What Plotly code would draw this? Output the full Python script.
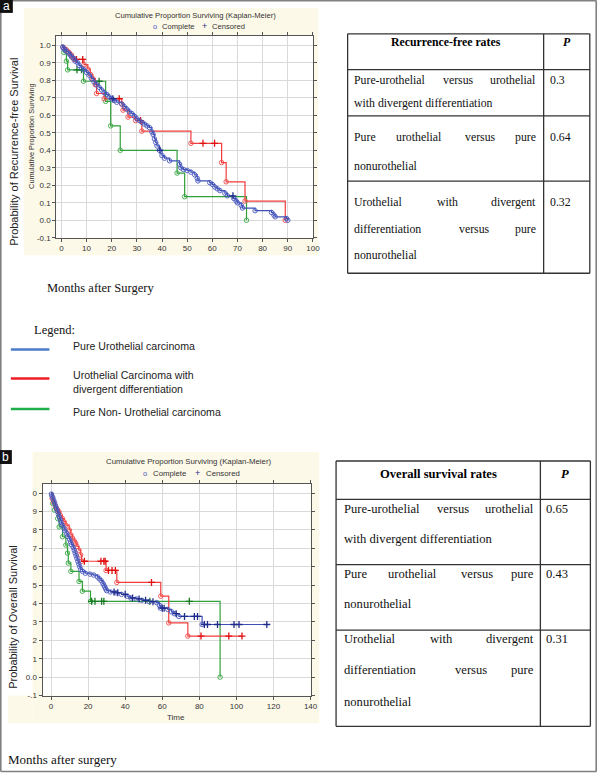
import plotly.graph_objects as go

W, H = 605, 778

# ---------------- DATA ----------------
# Panel a: recurrence-free survival (months, cumulative proportion surviving)
rfs_blue_t = [0.5, 1, 1.5, 2, 3, 3.5, 4, 5, 5.5, 6.5, 7, 8, 9, 10, 11, 12, 13, 14, 15, 16,
              17, 18, 19, 20, 21, 22, 24, 25, 26, 27, 28, 29, 30, 31, 32, 33, 34, 35, 36, 36.5,
              37, 37.5, 38, 39, 40, 41, 43, 47, 47.5, 48.5, 50, 51.5, 53, 54, 54.3, 59, 60, 61, 62, 63,
              65, 66, 68.5, 69.5, 70, 71.5, 72, 77, 83.5, 84.5, 85, 89.5, 90]
rfs_blue_s = [0.99, 0.98, 0.975, 0.965, 0.955, 0.945, 0.935, 0.925, 0.91, 0.9, 0.885, 0.87, 0.86, 0.845, 0.83, 0.81, 0.79, 0.775, 0.76, 0.745,
              0.73, 0.72, 0.705, 0.695, 0.685, 0.675, 0.665, 0.65, 0.635, 0.62, 0.61, 0.595, 0.58, 0.57, 0.56, 0.55, 0.54, 0.53, 0.505, 0.49,
              0.465, 0.445, 0.425, 0.40, 0.37, 0.355, 0.34, 0.32, 0.30, 0.29, 0.285, 0.275, 0.26, 0.24, 0.225, 0.215, 0.205, 0.19, 0.18, 0.17,
              0.155, 0.14, 0.125, 0.11, 0.10, 0.085, 0.07, 0.055, 0.045, 0.03, 0.02, 0.01, 0.0]
rfs_blue_cens = [20.5, 39.2, 68.2]

rfs_red_t = [1, 2, 3, 4, 4.5, 5, 9, 10.5, 11.5, 12.5, 13.5, 14, 17, 24, 24.5, 26.5, 29.5, 32, 51.5, 63.7, 65.5, 73, 89]
rfs_red_s = [0.985, 0.975, 0.96, 0.945, 0.93, 0.92, 0.89, 0.865, 0.835, 0.81, 0.775, 0.725, 0.695, 0.665, 0.63, 0.59, 0.57, 0.51, 0.44, 0.33, 0.22, 0.11, 0.0]
rfs_red_cens = [6, 8.5, 23, 31.5, 56.3, 60.9]

rfs_green_t = [1, 2, 2.5, 8.8, 17.6, 19.6, 23.4, 46, 49, 73.6]
rfs_green_s = [0.96, 0.91, 0.86, 0.795, 0.68, 0.54, 0.40, 0.27, 0.135, 0.0]
rfs_green_cens = [6.2, 8, 15]

# Panel b: overall survival
os_blue_t = [0.2, 0.5, 1, 1.5, 2, 2.5, 3, 3.5, 4, 4.5, 5, 5.5, 6, 7, 7.5, 8.5, 9, 10, 10.5, 11,
             12, 12.5, 13, 13.5, 14, 14.5, 15, 15.5, 16, 17, 18.5, 21, 23, 25, 26, 27, 28, 28.5, 29, 29.5,
             30, 32, 35, 38, 41, 43, 46, 49, 53, 57, 58.5, 59, 63, 65, 66.5, 69, 81.5]
os_blue_s = [0.995, 0.985, 0.975, 0.96, 0.945, 0.93, 0.915, 0.9, 0.885, 0.87, 0.855, 0.84, 0.825, 0.81, 0.795, 0.78, 0.765, 0.75, 0.735, 0.72,
             0.705, 0.69, 0.675, 0.66, 0.645, 0.63, 0.615, 0.6, 0.585, 0.575, 0.565, 0.56, 0.555, 0.545, 0.535, 0.525, 0.51, 0.5, 0.49, 0.48,
             0.47, 0.463, 0.458, 0.45, 0.44, 0.43, 0.425, 0.418, 0.41, 0.405, 0.39, 0.375, 0.368, 0.355, 0.345, 0.33, 0.286]
os_blue_cens = [34, 36, 40, 44, 47.5, 51, 55, 60, 61, 67.5, 72, 77.3, 79, 82.7, 84.4, 89.8, 98.7, 101.4, 116.4]

os_red_t = [0.6, 1.5, 2.5, 3.5, 4.3, 5, 6.1, 7, 8, 9.8, 10.7, 11.6, 12.5, 13.3, 14, 15, 16, 16.5, 29.7, 35.5, 59.2, 63.5, 73.8]
os_red_s = [0.97, 0.95, 0.926, 0.91, 0.899, 0.88, 0.862, 0.845, 0.826, 0.8, 0.773, 0.755, 0.74, 0.728, 0.71, 0.69, 0.664, 0.63, 0.58, 0.515, 0.44, 0.295, 0.223]
os_red_cens = [18, 26.9, 28.5, 29.2, 31, 32.9, 34.7, 54.2, 80.9, 95.9, 103]

os_green_t = [0.9, 1.8, 3.6, 4.4, 6.2, 8, 8.9, 9.3, 10.7, 15.1, 16.9, 21.3, 91.2]
os_green_s = [0.944, 0.908, 0.862, 0.817, 0.763, 0.718, 0.674, 0.62, 0.575, 0.52, 0.467, 0.412, 0.0]
os_green_cens = [21.9, 23.7, 27.3, 28.5, 53.3, 74.6]

# tick labels
a_xticks = [0, 10, 20, 30, 40, 50, 60, 70, 80, 90, 100]
a_yticks = [-0.1, 0.0, 0.1, 0.2, 0.3, 0.4, 0.5, 0.6, 0.7, 0.8, 0.9, 1.0]
a_yticktext = ["-0.1", "0.0", "0.1", "0.2", "0.3", "0.4", "0.5", "0.6", "0.7", "0.8", "0.9", "1.0"]
b_xticks = [0, 20, 40, 60, 80, 100, 120, 140]
b_yticks = [-0.1, 0.0, 0.1, 0.2, 0.3, 0.4, 0.5, 0.6, 0.7, 0.8, 0.9, 1.0]
b_yticktext = ["-.1", "0.0", "1", "2", "3", "4", "5", "6", "7", "8", "9", "0"]

# tables
rfs_header = "Recurrence-free rates"
rfs_rows = [["Pure-urothelial versus urothelial", "with divergent differentiation"],
            ["Pure urothelial versus pure", "nonurothelial"],
            ["Urothelial with divergent", "differentiation versus pure", "nonurothelial"]]
rfs_p = ["0.3", "0.64", "0.32"]
os_header = "Overall survival rates"
os_rows = [["Pure-urothelial versus urothelial", "with divergent differentiation"],
           ["Pure urothelial versus pure", "nonurothelial"],
           ["Urothelial with divergent", "differentiation versus pure", "nonurothelial"]]
os_p = ["0.65", "0.43", "0.31"]

legend_labels = ["Pure Urothelial carcinoma", "Urothelial Carcinoma with<br>divergent differentiation",
                 "Pure Non- Urothelial carcinoma"]

# ---------------- STYLE ----------------
SANS = "Liberation Sans, Arial, sans-serif"
SERIF = "Liberation Serif, Times New Roman, serif"
BLUE, BLUE_M, BLUE_C = "#3d50b5", "#4858bd", "#1f2c8c"
RED, RED_M, RED_C = "#f23b3b", "#f04848", "#e01010"
GREEN, GREEN_M, GREEN_C = "#30a03a", "#38a842", "#137a20"
CREAM = "#fdf9e8"


def X(px):
    return px / W


def Y(py):
    return 1 - py / H


fig = go.Figure()


def km(ev_t, ev_s, cens_t):
    end = max([ev_t[-1]] + list(cens_t))
    xs = [0] + list(ev_t) + [end]
    ys = [1.0] + list(ev_s) + [ev_s[-1]]
    cy = []
    for c in cens_t:
        v = 1.0
        for a, b in zip(ev_t, ev_s):
            if a <= c:
                v = b
        cy.append(v)
    return xs, ys, cy


def add_group(ev_t, ev_s, cens_t, col, mcol, ccol, xa, ya):
    xs, ys, cy = km(ev_t, ev_s, cens_t)
    fig.add_trace(go.Scatter(x=xs, y=ys, mode="lines", line=dict(color=col, width=1.2, shape="hv"),
                             xaxis=xa, yaxis=ya, hoverinfo="skip"))
    fig.add_trace(go.Scatter(x=ev_t, y=ev_s, mode="markers",
                             marker=dict(symbol="circle-open", size=4.5, color=mcol, line=dict(width=0.9, color=mcol)),
                             xaxis=xa, yaxis=ya, hoverinfo="skip"))
    fig.add_trace(go.Scatter(x=cens_t, y=cy, mode="markers",
                             marker=dict(symbol="cross-thin", size=5, color=ccol, line=dict(width=1.3, color=ccol)),
                             xaxis=xa, yaxis=ya, hoverinfo="skip"))


add_group(rfs_green_t, rfs_green_s, rfs_green_cens, GREEN, GREEN_M, GREEN_C, "x", "y")
add_group(rfs_red_t, rfs_red_s, rfs_red_cens, RED, RED_M, RED_C, "x", "y")
add_group(rfs_blue_t, rfs_blue_s, rfs_blue_cens, BLUE, BLUE_M, BLUE_C, "x", "y")
add_group(os_green_t, os_green_s, os_green_cens, GREEN, GREEN_M, GREEN_C, "x2", "y2")
add_group(os_red_t, os_red_s, os_red_cens, RED, RED_M, RED_C, "x2", "y2")
add_group(os_blue_t, os_blue_s, os_blue_cens, BLUE, BLUE_M, BLUE_C, "x2", "y2")

shapes = []
ann = []


def rect(x0, y0, x1, y1, fill):
    shapes.append(dict(type="rect", xref="paper", yref="paper", x0=X(x0), x1=X(x1), y0=Y(y1), y1=Y(y0),
                       fillcolor=fill, line=dict(width=0), layer="below"))


def hline(x0, x1, y, color="#333", w=1.3):
    shapes.append(dict(type="line", xref="paper", yref="paper", x0=X(x0), x1=X(x1), y0=Y(y), y1=Y(y),
                       line=dict(color=color, width=w)))


def vline(x, y0, y1, color="#333", w=1.3):
    shapes.append(dict(type="line", xref="paper", yref="paper", x0=X(x), x1=X(x), y0=Y(y0), y1=Y(y1),
                       line=dict(color=color, width=w)))


def txt(x, y, s, size, fam=SANS, color="#000", xa="left", ya="middle", angle=0):
    ann.append(dict(x=X(x), y=Y(y), xref="paper", yref="paper", text=s, showarrow=False,
                    font=dict(family=fam, size=size, color=color), xanchor=xa, yanchor=ya,
                    textangle=angle, borderpad=0, align="left"))


# backgrounds
rect(24, 8, 322, 257, CREAM)
rect(33, 455, 323, 728, CREAM)
rect(8, 700, 33, 728, CREAM)
rect(57, 36, 316.6, 239.3, "white")
rect(43, 487.3, 314.2, 700, "white")

# outer frame
hline(0.8, 603.5, 0.8, "#808080", 1.6)
hline(0.8, 603.5, 776.5, "#808080", 1.6)
vline(0.8, 0.8, 776.5, "#808080", 1.6)
vline(603.2, 0.8, 776.5, "#808080", 1.6)

# panel labels
shapes.append(dict(type="rect", xref="paper", yref="paper", x0=X(0), x1=X(13), y0=Y(13), y1=Y(0),
                   fillcolor="#111", line=dict(width=0)))
shapes.append(dict(type="rect", xref="paper", yref="paper", x0=X(0), x1=X(12), y0=Y(467), y1=Y(453),
                   fillcolor="#111", line=dict(width=0)))
txt(6.5, 6.5, "a", 12, SANS, "white", "center")
txt(6, 460, "b", 12, SANS, "white", "center")

# chart titles / inner legends
txt(198, 15.7, "Cumulative Proportion Surviving (Kaplan-Meier)", 7.6, SANS, "#333", "center")
txt(157, 26.7, "o", 7.5, SANS, BLUE_M, "center")
txt(163, 26.7, "Complete", 7.6, SANS, "#333")
txt(207, 26.2, "+", 9, SANS, BLUE_C, "center")
txt(213, 26.7, "Censored", 7.6, SANS, "#333")

txt(191.5, 464.3, "Cumulative Proportion Surviving (Kaplan-Meier)", 7.8, SANS, "#333", "center")
txt(146.7, 476.7, "o", 7.5, SANS, BLUE_M, "center")
txt(154, 476.7, "Complete", 7.8, SANS, "#333")
txt(200, 476.2, "+", 9, SANS, BLUE_C, "center")
txt(207, 476.7, "Censored", 7.8, SANS, "#333")
txt(178, 722.3, "Time", 8, SANS, "#333", "center")

# axis titles
txt(31.7, 136.5, "Cumulative Proportion Surviving", 7.4, SANS, "#333", "center", angle=-90)
txt(13.5, 152.5, "Probability of Recurrence-free Survival", 11, SANS, "#222", "center", angle=-90)
txt(13, 621, "Probability of Overall Survival", 11, SANS, "#222", "center", angle=-90)
txt(46.5, 290, "Months after Surgery", 12.5, SERIF, "#111")
txt(7.3, 764, "Months after surgery", 13, SERIF, "#111")

# legend block
txt(33.3, 331.7, "Legend:", 12.5, SERIF, "#111")
leg_colors = ["#4a7cc9", "#ee1d23", "#1fae4b"]
leg_line_y = [351.7, 381, 411.7]
leg_text_y = [348.3, 384.5, 414.3]
for c, ly, ty, lab in zip(leg_colors, leg_line_y, leg_text_y, legend_labels):
    shapes.append(dict(type="line", xref="paper", yref="paper", x0=X(11), x1=X(50), y0=Y(ly), y1=Y(ly),
                       line=dict(color=c, width=2.5)))
    txt(73, ty, lab, 10.6, SANS, "#222")


# tables
def table(left, right, div, top, hbot, row_bots, header, rows, pvals, line_ys, head_y, size, tl, tr, px):
    bottom = row_bots[-1]
    hline(left, right, top)
    hline(left, right, bottom)
    vline(left, top, bottom)
    vline(right, top, bottom)
    vline(div, top, bottom)
    hline(left, right, hbot)
    for rb in row_bots[:-1]:
        hline(left, right, rb)
    txt((left + div) / 2, head_y, "<b>" + header + "</b>", size, SERIF, "#000", "center")
    txt((div + right) / 2, head_y, "<b><i>P</i></b>", size, SERIF, "#000", "center")
    for r, (lines, ys, p) in enumerate(zip(rows, line_ys, pvals)):
        for li, (s, y) in enumerate(zip(lines, ys)):
            words = s.split(" ")
            justify = li < len(lines) - 1
            if not justify or len(words) == 1:
                txt(tl, y, s, size, SERIF, "#111")
                continue
            widths = [len(w) * 0.46 * size for w in words]
            gap = (tr - tl - sum(widths)) / (len(words) - 1)
            xcur = tl
            for k, (w, wd) in enumerate(zip(words, widths)):
                if k == 0:
                    txt(tl, y, w, size, SERIF, "#111", "left")
                elif k == len(words) - 1:
                    txt(tr, y, w, size, SERIF, "#111", "right")
                else:
                    txt(xcur + wd / 2, y, w, size, SERIF, "#111", "center")
                xcur += wd + gap
        txt(px, ys[0], p, size, SERIF, "#111")


table(351.7, 596.7, 550, 34, 70, [116.7, 182.3, 275], rfs_header, rfs_rows, rfs_p,
      [[81, 103.3], [138.3, 166.7], [203.3, 230, 256.7]], 42.7, 11.8, 356.7, 543.3, 555)
table(340, 597.3, 546.7, 464, 502.7, [568.3, 634.3, 731], os_header, os_rows, os_p,
      [[512.3, 542.7], [577.7, 608.3], [643.3, 674.3, 706.7]], 477.3, 12.6, 346.7, 541.7, 551.7)

axc = dict(showgrid=True, gridcolor="#d9d9d9", gridwidth=1, zeroline=False, showline=True,
           linecolor="#555", linewidth=1, mirror="allticks", ticks="outside", ticklen=3,
           tickcolor="#555", tickfont=dict(family=SANS, size=8, color="#333"), fixedrange=True)

fig.update_layout(
    width=W, height=H, margin=dict(l=0, r=0, t=0, b=0),
    paper_bgcolor="white", plot_bgcolor="white", showlegend=False,
    xaxis=dict(axc, domain=[X(57), X(316.6)], range=[-2, 100], tickvals=a_xticks,
               ticktext=[str(v) for v in a_xticks], anchor="y"),
    yaxis=dict(axc, domain=[Y(239.3), Y(36)], range=[-0.1, 1.055], tickvals=a_yticks,
               ticktext=a_yticktext, anchor="x"),
    xaxis2=dict(axc, domain=[X(43), X(314.2)], range=[-4.6, 140], tickvals=b_xticks,
                ticktext=[str(v) for v in b_xticks], anchor="y2"),
    yaxis2=dict(axc, domain=[Y(700), Y(487.3)], range=[-0.1, 1.049], tickvals=b_yticks,
                ticktext=b_yticktext, anchor="x2"),
    shapes=shapes, annotations=ann,
)

fig.write_html("out.html", config={"displayModeBar": False},
               post_script="document.body.style.margin='0';document.body.style.overflow='hidden';")
